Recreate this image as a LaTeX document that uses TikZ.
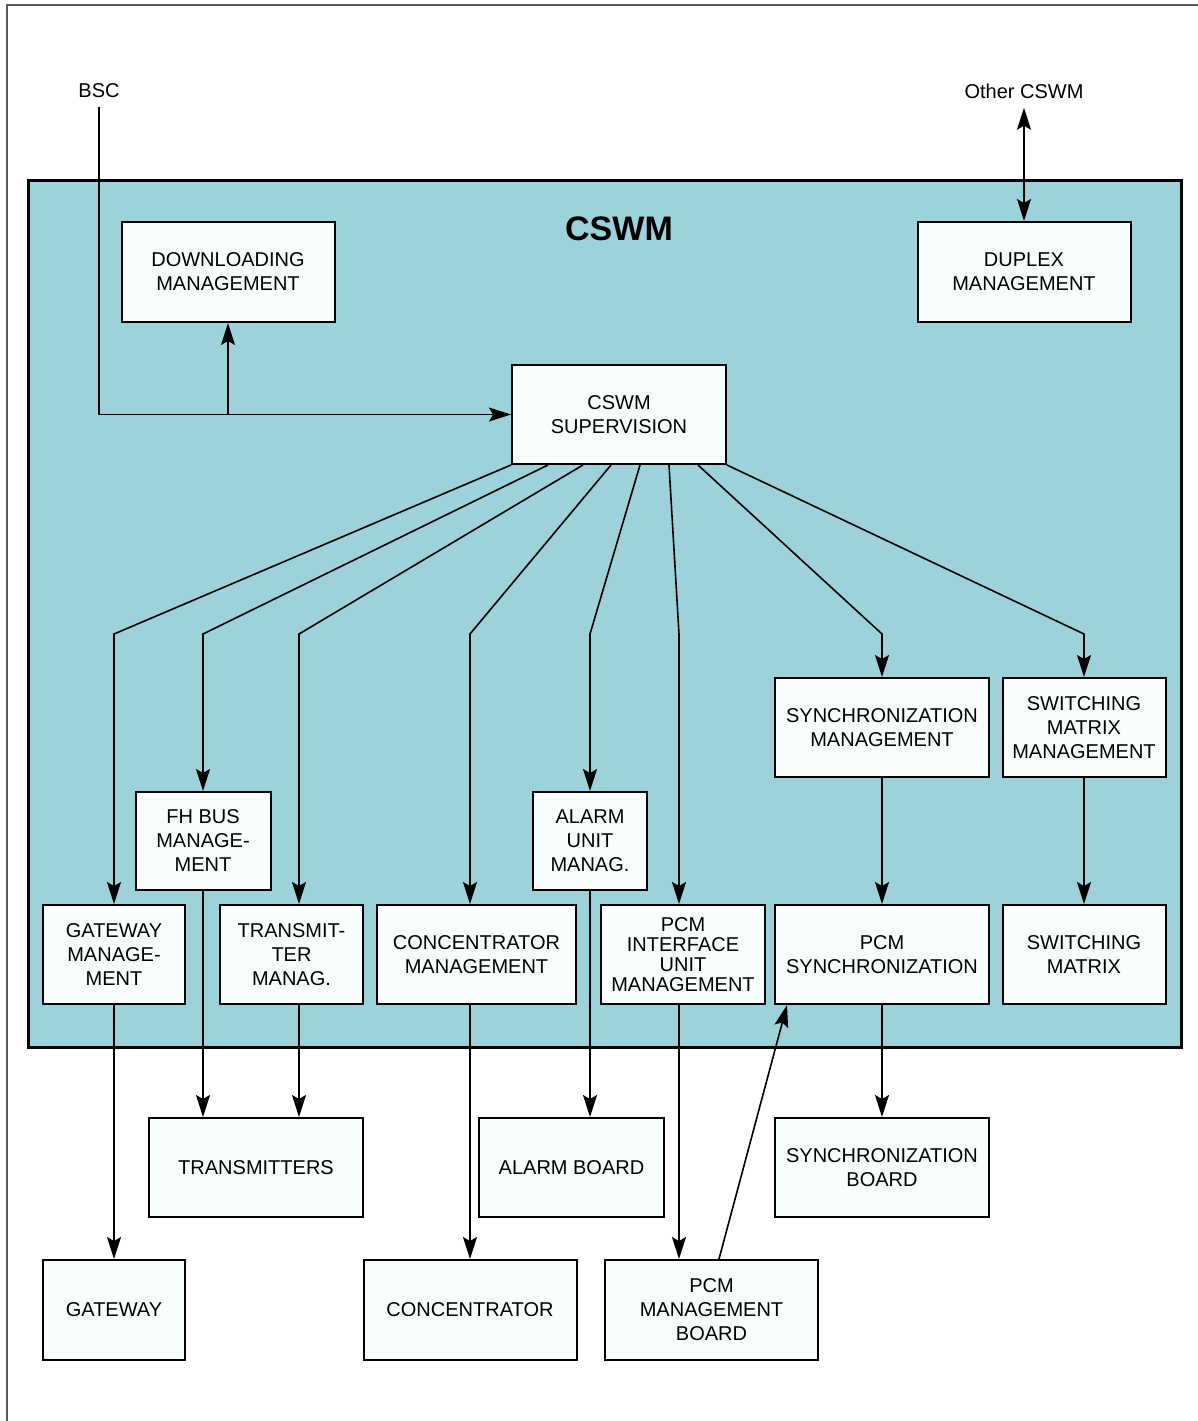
\documentclass[tikz,border=0pt]{standalone}
\usepackage{fontspec}
\setmainfont{Liberation Sans}
\usetikzlibrary{arrows.meta}
\definecolor{teal}{RGB}{157,210,218}
\definecolor{boxfill}{RGB}{248,253,254}
\definecolor{framegray}{RGB}{90,90,90}
\tikzset{
  bx/.style={draw, line width=1pt, fill=boxfill, align=center, inner sep=0pt,
    font=\fontsize{10}{12}\selectfont},
  lbl/.style={font=\fontsize{10}{12}\selectfont, inner sep=4.5pt},
  tip/.tip={Stealth[length=11pt,width=7pt,inset=2pt]},
  arr/.style={line width=0.8pt, -tip},
  arrtwo/.style={line width=0.8pt, tip-tip}
}
\begin{document}
\begin{tikzpicture}[x=0.5pt,y=-0.5pt]
\useasboundingbox (0,0) rectangle (1198,1421);
% page frame (only top and left visible)
\draw[framegray, line width=0.6pt] (7,1430) -- (7,5) -- (1210,5);
% CSWM area
\draw[fill=teal, line width=1.5pt] (28,180) rectangle (1181,1047);
\node[font=\fontsize{17}{20}\selectfont\bfseries] (title) at (619,229) {CSWM};

% external labels
\node[lbl] (bsc) at (99,91) {BSC};
\node[lbl] (oth) at (1024,91) {Other CSWM};

% boxes inside
\node[bx, minimum width=106.5pt, minimum height=50pt] (dl) at (228,272) {DOWNLOADING\\MANAGEMENT};
\node[bx, minimum width=106.5pt, minimum height=50pt] (dup) at (1024,272) {DUPLEX\\MANAGEMENT};
\node[bx, minimum width=107pt, minimum height=49.5pt] (sup) at (619,414.5) {CSWM\\SUPERVISION};
\node[bx, minimum width=107pt, minimum height=49.5pt] (syncm) at (882,727.5) {SYNCHRONIZATION\\MANAGEMENT};
\node[bx, minimum width=81.5pt, minimum height=49.5pt] (swm) at (1084,727.5) {SWITCHING\\MATRIX\\MANAGEMENT};
\node[bx, minimum width=67.5pt, minimum height=49pt] (fh) at (203,841) {FH BUS\\MANAGE-\\MENT};
\node[bx, minimum width=57pt, minimum height=49pt] (alm) at (590,841) {ALARM\\UNIT\\MANAG.};
\node[bx, minimum width=71pt, minimum height=49.5pt] (gwm) at (114,954.5) {GATEWAY\\MANAGE-\\MENT};
\node[bx, minimum width=71.5pt, minimum height=49.5pt] (tm) at (291.5,954.5) {TRANSMIT-\\TER\\MANAG.};
\node[bx, minimum width=99.5pt, minimum height=49.5pt] (concm) at (476.5,954.5) {CONCENTRATOR\\MANAGEMENT};
\node[bx, minimum width=82pt, minimum height=49.5pt, font=\fontsize{10}{10}\selectfont] (pcmi) at (683,954.5) {PCM\\INTERFACE\\UNIT\\MANAGEMENT};
\node[bx, minimum width=107pt, minimum height=49.5pt] (pcms) at (882,954.5) {PCM\\SYNCHRONIZATION};
\node[bx, minimum width=81.5pt, minimum height=49.5pt] (swx) at (1084,954.5) {SWITCHING\\MATRIX};

% boxes outside
\node[bx, minimum width=107pt, minimum height=49.5pt] (tx) at (256,1167.5) {TRANSMITTERS};
\node[bx, minimum width=92.5pt, minimum height=49.5pt] (ab) at (571.5,1167.5) {ALARM BOARD};
\node[bx, minimum width=107pt, minimum height=49.5pt] (sb) at (882,1167.5) {SYNCHRONIZATION\\BOARD};
\node[bx, minimum width=71pt, minimum height=50pt] (gw) at (114,1310) {GATEWAY};
\node[bx, minimum width=106.5pt, minimum height=50pt] (conc) at (470,1310) {CONCENTRATOR};
\node[bx, minimum width=106.5pt, minimum height=50pt] (pmb) at (711.5,1310) {PCM\\MANAGEMENT\\BOARD};

% BSC and downloading
\coordinate (j) at (dl.south |- sup.west);
\draw[arr] (bsc.south) |- (sup.west);
\draw[arr] (j) -- (dl.south);
\draw[arrtwo] (oth.south) -- (dup.north);

% supervision fan-out
\draw[arr] (sup.south west) -- (114,634) -- (gwm.north);
\draw[arr] ([xshift=-35.5pt]sup.south) -- (203,634) -- (fh.north);
\draw[arr] ([xshift=-18pt]sup.south) -- (299,634) -- ([xshift=3.75pt]tm.north);
\draw[arr] ([xshift=-4pt]sup.south) -- (470,634) -- ([xshift=-3.25pt]concm.north);
\draw[arr] ([xshift=10.5pt]sup.south) -- (590,634) -- (alm.north);
\draw[arr] ([xshift=25pt]sup.south) -- (679,634) -- ([xshift=-2pt]pcmi.north);
\draw[arr] ([xshift=39.5pt]sup.south) -- (882,634) -- (syncm.north);
\draw[arr] (sup.south east) -- (1084,634) -- (swm.north);

% inner vertical links
\draw[arr] (syncm.south) -- (pcms.north);
\draw[arr] (swm.south) -- (swx.north);

% links to outside boxes
\draw[arr] (gwm.south) -- (gw.north);
\draw[arr] (fh.south) -- ([xshift=-26.5pt]tx.north);
\draw[arr] ([xshift=3.75pt]tm.south) -- ([xshift=21.5pt]tx.north);
\draw[arr] ([xshift=-3.25pt]concm.south) -- (conc.north);
\draw[arr] (alm.south) -- ([xshift=9.25pt]ab.north);
\draw[arr] ([xshift=-2pt]pcmi.south) -- ([xshift=-16.25pt]pmb.north);
\draw[arr] ([xshift=3.75pt]pmb.north) -- ([xshift=-47.5pt]pcms.south);
\draw[arr] (pcms.south) -- (sb.north);
\end{tikzpicture}
\end{document}
